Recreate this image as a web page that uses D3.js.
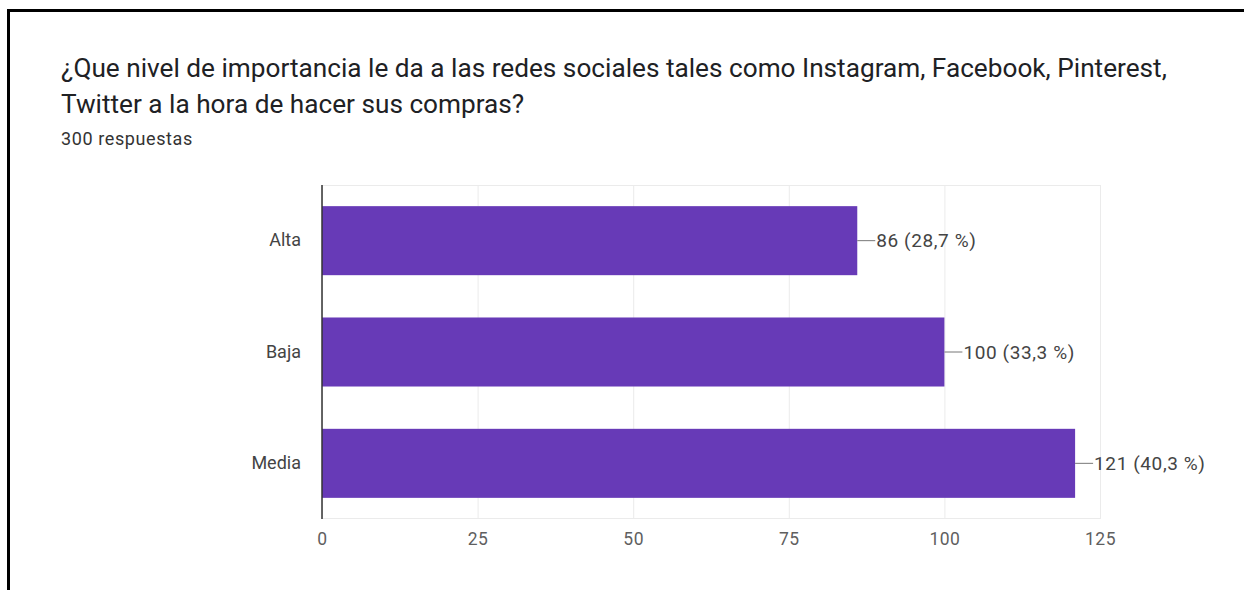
<!DOCTYPE html>
<html>
<head>
<meta charset="utf-8">
<script src="https://cdn.jsdelivr.net/npm/d3@7"></script>
<style>
  html, body { margin: 0; padding: 0; background: #fff; }
  text { font-family: Roboto, "Noto Sans", sans-serif; }
</style>
</head>
<body>
<div id="chart"></div>
<script>
const categories = ['Alta', 'Baja', 'Media'];
const counts = [86, 100, 121];
const percents = ['28,7', '33,3', '40,3'];
const tickValues = [0, 25, 50, 75, 100, 125];
const titleLines = [
  '¿Que nivel de importancia le da a las redes sociales tales como Instagram, Facebook, Pinterest,',
  'Twitter a la hora de hacer sus compras?'
];
const subtitle = '300 respuestas';

const w = 1244;
const h = 590;
const margin = ({ top: 185, right: 144, bottom: 71, left: 322 });

const data = categories.map((c, i) => ({ cat: c, n: counts[i], pct: percents[i] }));

const svg = d3.select('#chart')
  .append('svg')
  .attr('width', w)
  .attr('height', h);

// frame lines (left and top)
svg.append('line')
  .attr('x1', 8.5).attr('x2', 8.5).attr('y1', 9).attr('y2', h)
  .attr('stroke', '#000').attr('stroke-width', 3);
svg.append('line')
  .attr('x1', 7).attr('x2', w).attr('y1', 10.5).attr('y2', 10.5)
  .attr('stroke', '#000').attr('stroke-width', 3);

// title
svg.selectAll('.title')
  .data(titleLines)
  .enter()
  .append('text')
  .attr('class', 'title')
  .attr('x', 61)
  .attr('y', (d, i) => 77 + i * 36)
  .attr('font-size', 26.2)
  .attr('fill', '#202124')
  .text(d => d);

svg.append('text')
  .attr('x', 61)
  .attr('y', 145)
  .attr('font-size', 18)
  .attr('letter-spacing', 0.6)
  .attr('fill', '#333')
  .text(subtitle);

// scales
const xScale = d3.scaleLinear()
  .domain([0, 125])
  .range([margin.left, w - margin.right]);

const yScale = d3.scaleBand()
  .domain(categories)
  .range([margin.top, h - margin.bottom])
  .paddingInner(0.38)
  .paddingOuter(0.19);

// grid
const xAxis = d3.axisBottom(xScale)
  .tickValues(tickValues)
  .tickSize(-(h - margin.bottom - margin.top))
  .tickPadding(14);

const gx = svg.append('g')
  .classed('x-axis', true)
  .attr('transform', `translate(0, ${h - margin.bottom})`)
  .call(xAxis);

gx.select('.domain').remove();
gx.selectAll('.tick line').attr('stroke', '#ebebeb');
gx.selectAll('.tick text')
  .attr('font-size', 17.5)
  .attr('letter-spacing', 0.5)
  .attr('fill', '#5f5f5f')
  .attr('font-family', 'Roboto, sans-serif');

// top and bottom plot border
svg.append('line')
  .attr('x1', margin.left).attr('x2', w - margin.right)
  .attr('y1', margin.top + 0.5).attr('y2', margin.top + 0.5)
  .attr('stroke', '#ebebeb');
svg.append('line')
  .attr('x1', margin.left).attr('x2', w - margin.right)
  .attr('y1', h - margin.bottom - 0.5).attr('y2', h - margin.bottom - 0.5)
  .attr('stroke', '#ebebeb');

// y axis labels
const yAxis = d3.axisLeft(yScale)
  .tickSize(0)
  .tickPadding(21);

const gy = svg.append('g')
  .classed('y-axis', true)
  .attr('transform', `translate(${margin.left}, 0)`)
  .call(yAxis);

gy.select('.domain').remove();
gy.selectAll('.tick text')
  .attr('font-size', 18)
  .attr('fill', '#444')
  .attr('font-family', 'Roboto, sans-serif');

// bars
const barGroups = svg.selectAll('.bargroup')
  .data(data)
  .enter()
  .append('g')
  .attr('class', 'bargroup');

barGroups.append('rect')
  .attr('x', xScale(0))
  .attr('y', d => yScale(d.cat))
  .attr('width', d => xScale(d.n) - xScale(0))
  .attr('height', yScale.bandwidth())
  .attr('fill', '#673ab7');

barGroups.append('line')
  .attr('x1', d => xScale(d.n))
  .attr('x2', d => xScale(d.n) + 18)
  .attr('y1', d => yScale(d.cat) + yScale.bandwidth() / 2)
  .attr('y2', d => yScale(d.cat) + yScale.bandwidth() / 2)
  .attr('stroke', '#777')
  .attr('stroke-width', 1);

barGroups.append('text')
  .attr('x', d => xScale(d.n) + 19)
  .attr('y', d => yScale(d.cat) + yScale.bandwidth() / 2)
  .attr('dy', '0.35em')
  .attr('font-size', 19)
  .attr('letter-spacing', 0.6)
  .attr('fill', '#444')
  .text(d => `${d.n} (${d.pct} %)`);

// zero axis line
svg.append('line')
  .attr('x1', xScale(0)).attr('x2', xScale(0))
  .attr('y1', margin.top).attr('y2', h - margin.bottom)
  .attr('stroke', '#333')
  .attr('stroke-width', 1.5);
</script>
</body>
</html>
